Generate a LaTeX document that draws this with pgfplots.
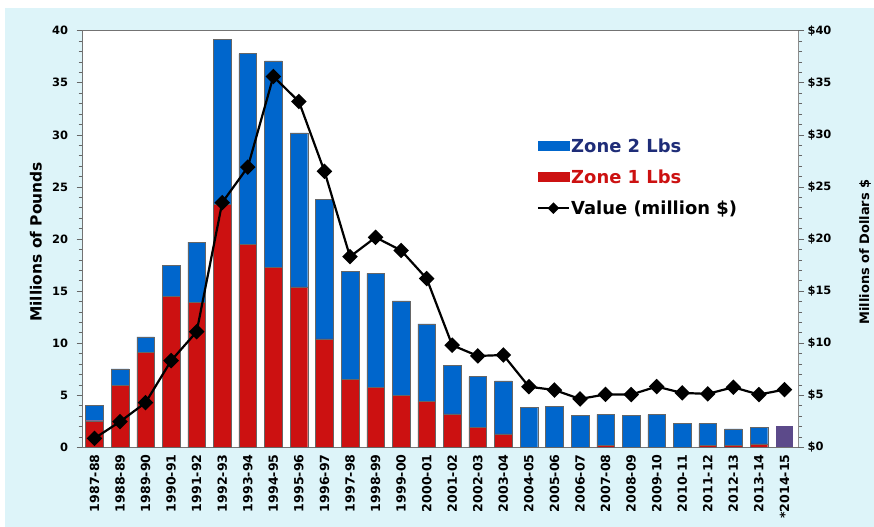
\documentclass[border=0pt]{standalone}
\usepackage{pgfplots}
\pgfplotsset{compat=1.18}
\usepackage{fontspec}
\setmainfont{DejaVu Sans}
\definecolor{bgc}{RGB}{221,244,249}
\definecolor{zblue}{RGB}{0,102,204}
\definecolor{zred}{RGB}{204,17,17}
\definecolor{zpurp}{RGB}{92,74,138}
\definecolor{navy}{RGB}{31,45,120}
\newcommand{\tickfont}{\bfseries\fontsize{11.5}{12}\selectfont}
\newcommand{\xtickfont}{\bfseries\fontsize{12.6}{13}\selectfont}
\begin{document}
\begin{tikzpicture}
\fill[white] (0,0) rectangle (874bp,527bp);
\fill[bgc] (5bp,0) rectangle (874bp,519bp);
\begin{axis}[
  at={(82.7bp,79.7bp)}, anchor=south west,
  scale only axis, width=715.3bp, height=416.6bp,
  xmin=-0.46, xmax=27.53, ymin=0, ymax=40,
  ybar stacked, bar width=0.69,
  axis background/.style={fill=white},
  axis line style={black!55, line width=0.8bp},
  xtick={0,...,27},
  xticklabels={1987-88,1988-89,1989-90,1990-91,1991-92,1992-93,1993-94,1994-95,1995-96,1996-97,1997-98,1998-99,1999-00,2000-01,2001-02,2002-03,2003-04,2004-05,2005-06,2006-07,2007-08,2008-09,2009-10,2010-11,2011-12,2012-13,2013-14,*2014-15},
  xticklabel style={rotate=90, anchor=east, font=\xtickfont, inner sep=1bp},
  major x tick style={draw=none},
  xtick pos=bottom,
  ytick={0,5,...,40},
  yticklabels={0,5,10,15,20,25,30,35,40},
  yticklabel style={font=\tickfont, xshift=-5bp},
  minor y tick num=4,
  ytick pos=left,
  tick align=outside,
  major tick length=6bp, minor tick length=4bp,
  every tick/.style={black!60, line width=0.6bp},
  every axis y label/.style={at={(axis description cs:-0.0653,0.493)}, rotate=90, anchor=center},
  ylabel={\bfseries\fontsize{15.5}{16}\selectfont Millions of Pounds},
]
\addplot[fill=zred, draw=black!60, line width=0.4bp] coordinates {
(0,2.55) (1,5.98) (2,9.1) (3,14.5) (4,13.9) (5,23.3) (6,19.5) (7,17.3) (8,15.4) (9,10.4)
(10,6.55) (11,5.73) (12,5.0) (13,4.38) (14,3.2) (15,1.92) (16,1.28) (17,0) (18,0) (19,0)
(20,0.16) (21,0) (22,0) (23,0) (24,0.16) (25,0.22) (26,0.32) (27,0)};
\addplot[fill=zblue, draw=black!60, line width=0.4bp] coordinates {
(0,1.51) (1,1.54) (2,1.5) (3,3.0) (4,5.8) (5,15.9) (6,18.3) (7,19.8) (8,14.8) (9,13.4)
(10,10.35) (11,10.97) (12,9.05) (13,7.46) (14,4.7) (15,4.86) (16,5.09) (17,3.81) (18,3.9) (19,3.04)
(20,2.99) (21,3.04) (22,3.14) (23,2.31) (24,2.12) (25,1.54) (26,1.6) (27,0)};
\addplot[fill=zpurp, draw=none] coordinates {
(0,0) (1,0) (2,0) (3,0) (4,0) (5,0) (6,0) (7,0) (8,0) (9,0)
(10,0) (11,0) (12,0) (13,0) (14,0) (15,0) (16,0) (17,0) (18,0) (19,0)
(20,0) (21,0) (22,0) (23,0) (24,0) (25,0) (26,0) (27,2.08)};
\end{axis}
\begin{axis}[
  at={(82.7bp,79.7bp)}, anchor=south west,
  scale only axis, width=715.3bp, height=416.6bp,
  xmin=-0.46, xmax=27.53, ymin=0, ymax=40,
  axis x line=none,
  axis y line*=right,
  axis line style={black!45, line width=0.8bp},
  ytick={0,5,...,40},
  yticklabels={\$0,\$5,\$10,\$15,\$20,\$25,\$30,\$35,\$40},
  yticklabel style={font=\tickfont},
  minor y tick num=4,
  tick align=outside,
  major tick length=6bp, minor tick length=4bp,
  every tick/.style={black!60, line width=0.6bp},
  every axis y label/.style={at={(axis description cs:1.0937,0.469)}, rotate=90, anchor=center},
  ylabel={\bfseries\fontsize{13}{14}\selectfont Millions of Dollars \$},
  legend style={at={(axis description cs:0.635,0.7456)}, anchor=north west, draw=none, fill=none,
    font=\bfseries\fontsize{18}{20}\selectfont, row sep=13bp, inner sep=0pt,
    nodes={inner sep=1.5bp}},
  legend cell align=left,
]
\addlegendimage{legend image code/.code={\fill[zblue] (0bp,-4.5bp) rectangle (31bp,4.5bp);}}
\addlegendentry{\textcolor{navy}{Zone 2 Lbs}}
\addlegendimage{legend image code/.code={\fill[zred] (0bp,-4.5bp) rectangle (31bp,4.5bp);}}
\addlegendentry{\textcolor{zred}{Zone 1 Lbs}}
\addplot[black, line width=2.2bp, mark=square*, mark size=4.4bp, mark options={rotate=45},
  legend image code/.code={\draw[black, line width=1.6bp] (0bp,0bp) -- (31bp,0bp);
    \fill[black,rotate around={45:(15.5bp,0bp)}] (12.5bp,-3bp) rectangle (18.5bp,3bp);}]
coordinates {
(0,0.86) (1,2.46) (2,4.29) (3,8.32) (4,11.1) (5,23.5) (6,26.9) (7,35.6) (8,33.2) (9,26.5)
(10,18.3) (11,20.16) (12,18.9) (13,16.2) (14,9.8) (15,8.77) (16,8.86) (17,5.82) (18,5.5) (19,4.64)
(20,5.08) (21,5.06) (22,5.83) (23,5.22) (24,5.13) (25,5.77) (26,5.06) (27,5.54)};
\addlegendentry{Value (million \$)}
\end{axis}
\pgfresetboundingbox
\path (0,0) rectangle (874bp,527bp);
\end{tikzpicture}
\end{document}
